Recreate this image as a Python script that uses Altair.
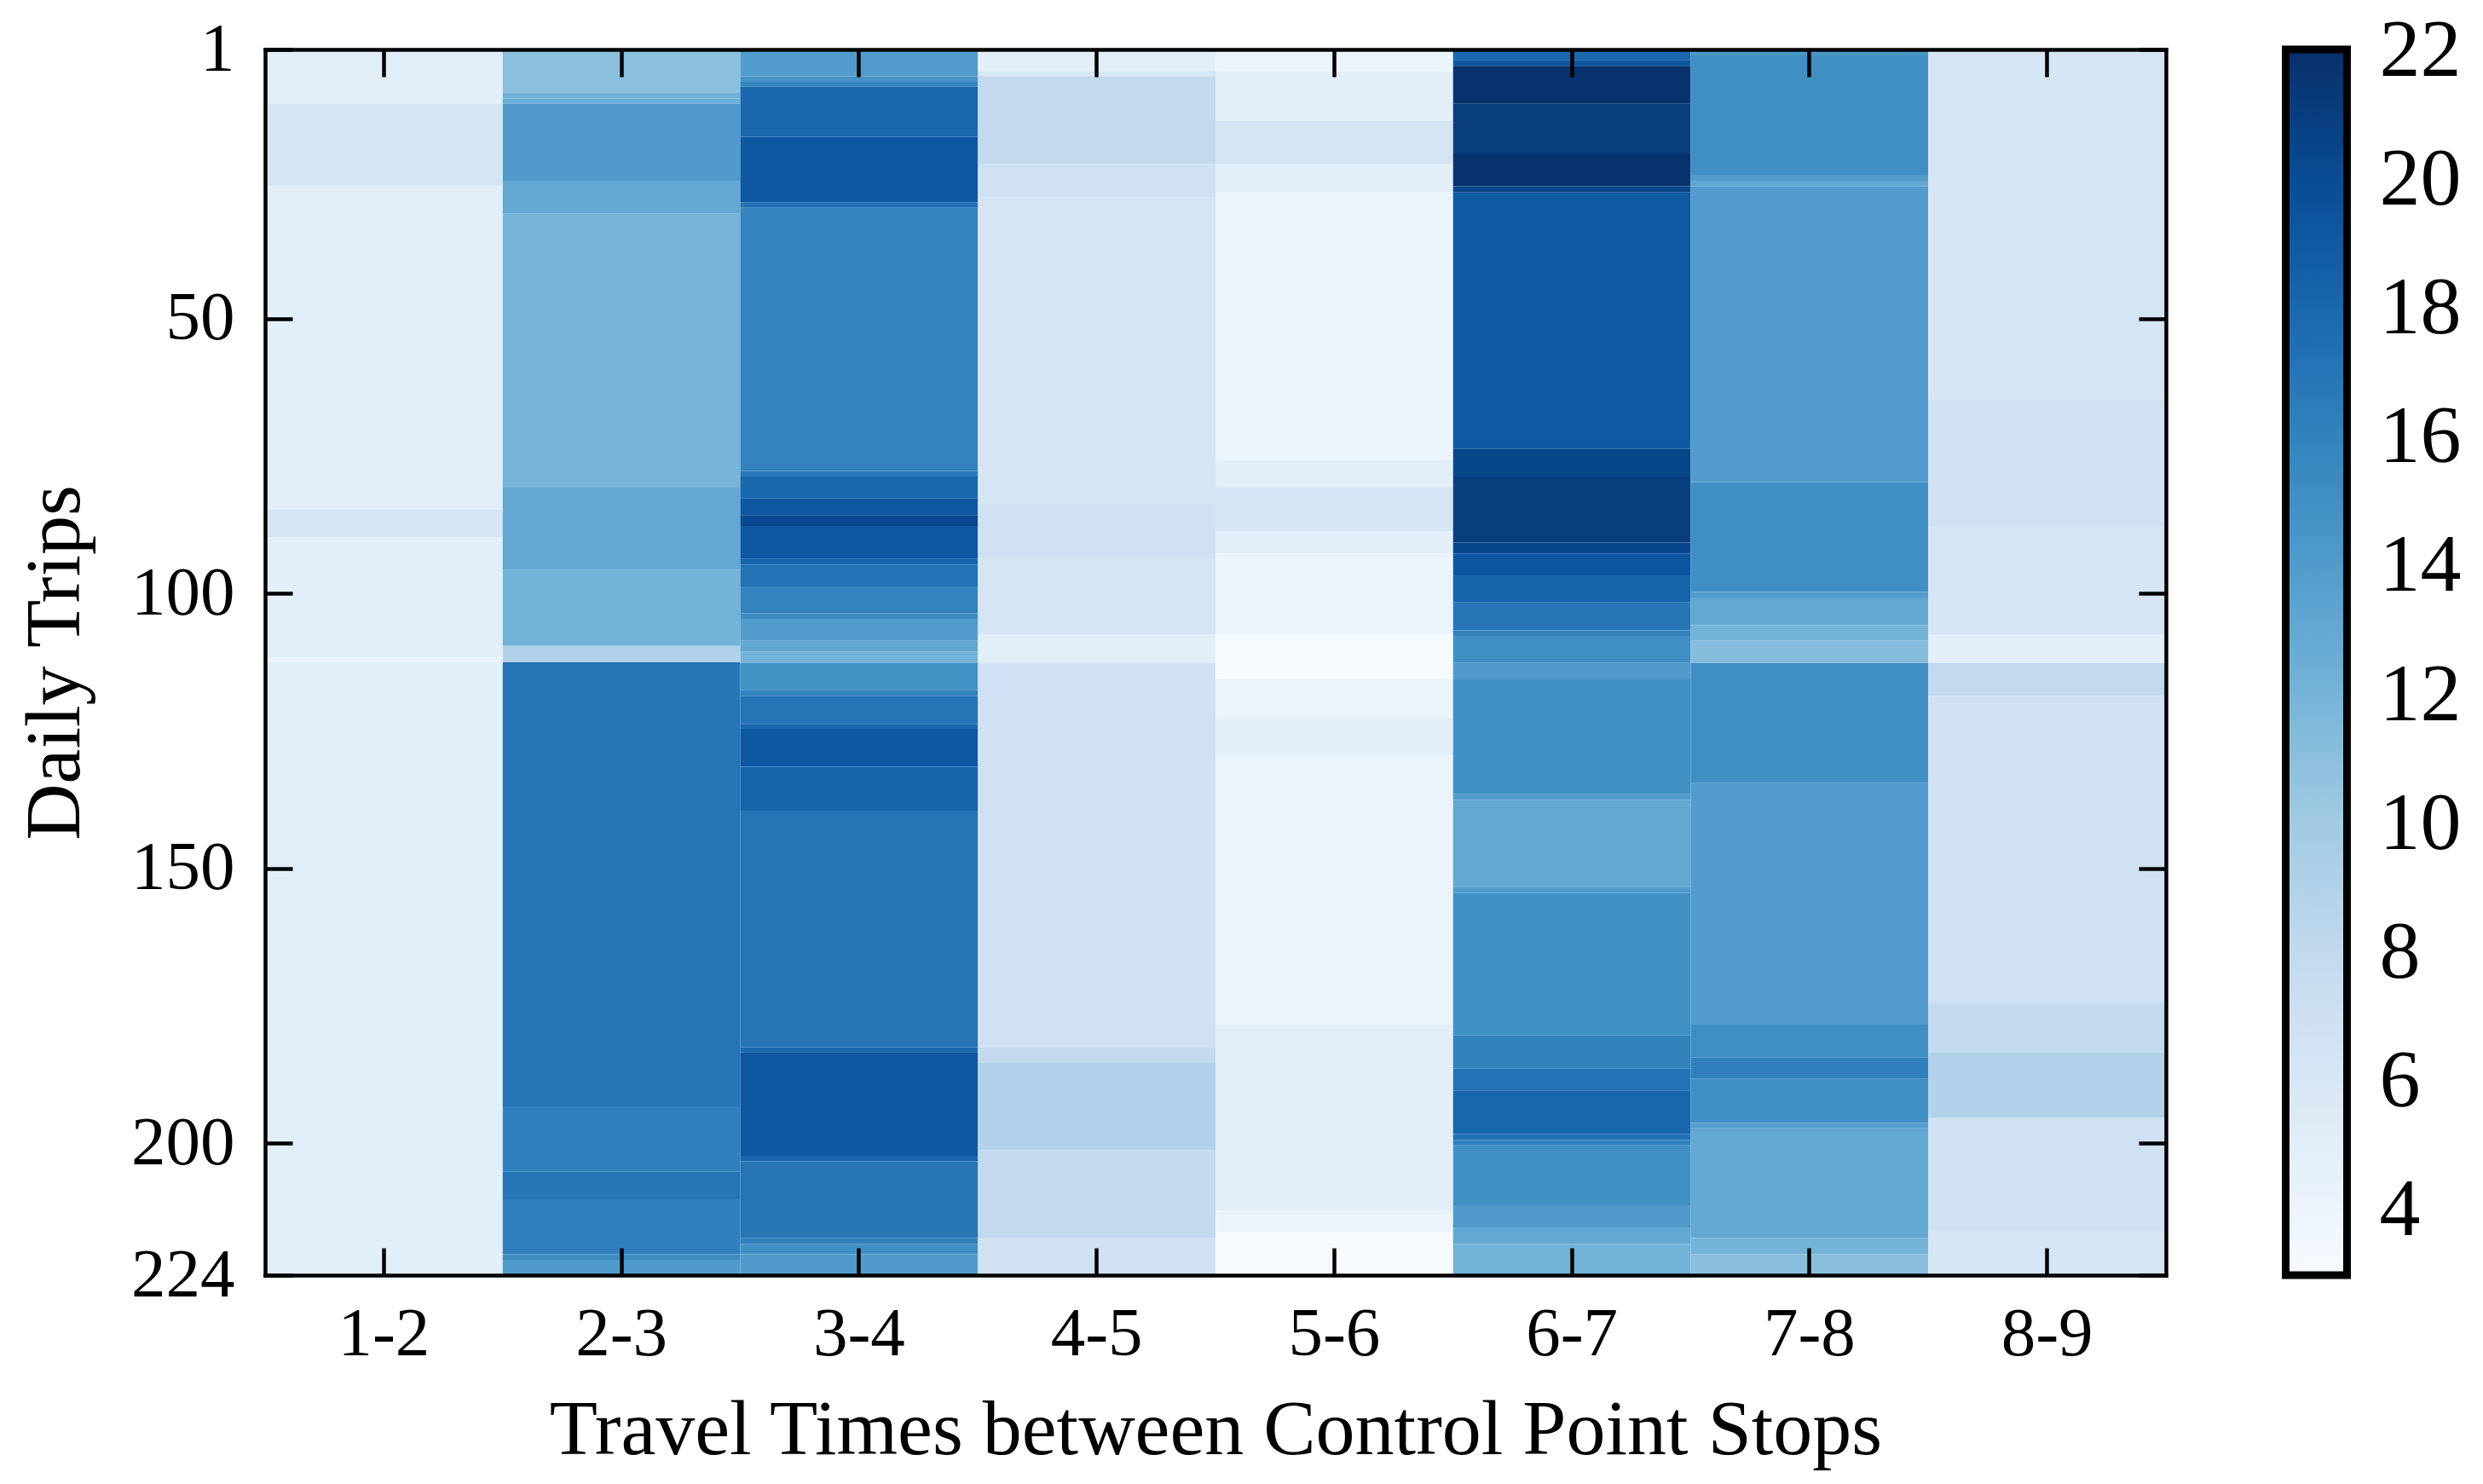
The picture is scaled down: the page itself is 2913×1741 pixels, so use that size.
import altair as alt
import pandas as pd

# ---------------- data ----------------
columns = ["1-2", "2-3", "3-4", "4-5", "5-6", "6-7", "7-8", "8-9"]

c12_edges = [1, 10.9, 25.9, 84.7, 89.7, 111.6, 112.5, 224]
c12_vals = [5.0, 6.3, 5.0, 6.3, 5.0, 4.2, 5.0]

c23_edges = [1, 8.9, 9.9, 10.9, 24.9, 30.9, 80.7, 95.7, 109.5, 112.5, 193.3, 205.2, 210.2, 220.2, 221.2, 224]
c23_vals = [11.0, 12.2, 12.5, 14.1, 13.0, 12.0, 13.0, 12.1, 9.0, 17.0, 16.2, 17.0, 16.2, 15.3, 14.1]

c34_edges = [1, 5.9, 6.9, 7.8, 16.9, 28.8, 29.8, 77.7, 78.7, 82.7, 85.7, 87.7, 93.7, 94.7, 98.7,
             103.6, 104.6, 108.6, 110.6, 112.6, 117.5, 118.6, 123.7, 124.6, 131.5, 139.5, 182.5,
             183.4, 202.3, 203.3, 217.2, 218.3, 220.2, 224]
c34_vals = [14.0, 14.7, 15.9, 18.0, 19.1, 17.3, 16.0, 16.8, 18.0, 19.1, 20.3, 19.1, 18.2, 17.2,
            16.0, 15.3, 14.0, 13.1, 12.1, 14.9, 15.9, 17.0, 17.9, 19.1, 18.2, 17.0, 18.0, 19.1,
            18.0, 17.0, 16.2, 15.0, 14.1]

c45_edges = [1, 5.0, 5.9, 21.9, 27.9, 83.6, 93.7, 107.5, 112.6, 182.5, 185.4, 201.3, 217.2, 224]
c45_vals = [5.0, 6.1, 8.0, 6.9, 6.2, 6.9, 6.2, 5.0, 6.9, 8.0, 9.0, 8.0, 6.8]

c56_edges = [1, 5.0, 14.0, 21.9, 27.0, 75.8, 80.7, 88.6, 92.7, 107.5, 115.6, 122.6, 129.4, 178.4, 212.3, 216.2, 224]
c56_vals = [4.1, 5.0, 6.3, 5.0, 4.1, 5.0, 6.3, 5.0, 4.1, 3.2, 4.1, 5.0, 4.1, 5.0, 4.1, 3.2]

c67_edges = [1, 2.9, 4.0, 10.9, 19.9, 25.9, 27.0, 73.7, 78.7, 90.7, 92.7, 96.7, 101.6, 106.7, 107.7,
             112.6, 115.6, 136.5, 137.5, 153.4, 154.5, 180.3, 186.4, 190.4, 198.3, 199.4, 200.4,
             211.3, 215.3, 218.3, 224]
c67_vals = [18.0, 19.3, 21.9, 21.1, 21.9, 20.5, 19.0, 20.4, 21.1, 20.4, 19.3, 18.2, 17.0, 16.0, 15.1,
            14.1, 15.0, 14.1, 13.0, 14.1, 15.0, 16.1, 17.2, 18.1, 17.3, 16.2, 15.0, 14.1, 13.0, 12.1]

c78_edges = [1, 2.1, 23.8, 24.9, 25.9, 79.7, 99.7, 100.7, 105.7, 108.5, 112.6, 134.5, 178.4, 184.4,
             188.3, 196.3, 197.3, 217.2, 220.2, 224]
c78_vals = [14.4, 15.1, 14.1, 13.1, 14.0, 15.1, 14.1, 13.0, 12.1, 11.2, 15.1, 14.0, 15.1, 16.2, 15.1,
            14.0, 13.0, 12.1, 11.1]

c89_edges = [1, 64.7, 87.7, 107.5, 112.6, 118.6, 174.4, 183.4, 195.3, 216.2, 224]
c89_vals = [6.2, 6.9, 6.2, 5.0, 8.0, 6.9, 8.0, 9.0, 6.9, 6.2]

y_tick_values = [1, 50, 100, 150, 200, 224]
cbar_tick_values = [4, 6, 8, 10, 12, 14, 16, 18, 20, 22]
value_min, value_max = 3, 22.02

# ---------------- build table ----------------
col_edges = [c12_edges, c23_edges, c34_edges, c45_edges, c56_edges, c67_edges, c78_edges, c89_edges]
col_vals = [c12_vals, c23_vals, c34_vals, c45_vals, c56_vals, c67_vals, c78_vals, c89_vals]
records = []
for name, edges, vals in zip(columns, col_edges, col_vals):
    for i, v in enumerate(vals):
        records.append({"seg": name, "y0": edges[i], "y1": edges[i + 1], "v": v})
df = pd.DataFrame(records)

# ---------------- styling ----------------
BLUES = ["#f7fbff", "#deebf7", "#c6dbef", "#9ecae1", "#6baed6",
         "#4292c6", "#2171b5", "#08519c", "#08306b"]
stops = [value_min + i * (value_max - value_min) / 8 for i in range(9)]
color_scale = alt.Scale(domain=stops, range=BLUES, interpolate="rgb")

FONT = "Liberation Serif"
W, H = 2230, 1438
T = 32          # tick length
LW = 4.5        # frame / tick width

xscale = alt.Scale(domain=columns, paddingInner=0, paddingOuter=0)
yscale = alt.Scale(domain=[1, 224], reverse=True, nice=False, zero=False)

base = alt.Chart(df)

heat = base.mark_rect(strokeWidth=0).encode(
    x=alt.X("seg:N", scale=xscale, sort=columns,
            axis=alt.Axis(orient="bottom", title="Travel Times between Control Point Stops",
                          labelAngle=0, ticks=False, tickSize=0, grid=False,
                          domain=True, domainWidth=LW, domainColor="black", domainCap="square",
                          labelFont=FONT, labelFontSize=81, labelColor="black",
                          labelPadding=93, labelBaseline="alphabetic", labelOverlap=False,
                          titleFont=FONT, titleFontSize=92, titleFontWeight="normal",
                          titleColor="black", titleX=W / 2, titleY=209,
                          titleBaseline="alphabetic", titleAlign="center", zindex=2)),
    y=alt.Y("y0:Q", scale=yscale,
            axis=alt.Axis(orient="left", title="Daily Trips", values=y_tick_values,
                          ticks=False, tickSize=0, grid=False,
                          domain=True, domainWidth=LW, domainColor="black", domainCap="square",
                          labelFont=FONT, labelFontSize=81, labelColor="black",
                          labelPadding=36, labelOverlap=False, labelFlush=False,
                          titleFont=FONT, titleFontSize=92, titleFontWeight="normal",
                          titleColor="black", titleAngle=-90, titleX=-219, titleY=H / 2,
                          titleBaseline="alphabetic", titleAlign="center", zindex=2)),
    y2="y1:Q",
    color=alt.Color("v:Q", scale=color_scale,
                    legend=alt.Legend(type="gradient", orient="none", legendX=2370.5, legendY=0,
                                      direction="vertical", title=None, format="d",
                                      gradientLength=H, gradientThickness=72,
                                      gradientStrokeColor="black", gradientStrokeWidth=9,
                                      values=cbar_tick_values, labelFont=FONT,
                                      labelFontSize=96, labelColor="black", labelOffset=38,
                                      labelBaseline="middle", labelLimit=400,
                                      labelOverlap=False, padding=0)),
)


def tick_axis(orient, values=None):
    kw = dict(orient=orient, title="", labels=False, domain=False, grid=False,
              ticks=True, tickSize=T, tickWidth=LW, tickColor="black", offset=-T, zindex=2)
    if values is not None:
        kw["values"] = values
    return alt.Axis(**kw)


def frame_axis(orient):
    return alt.Axis(orient=orient, title="", labels=False, ticks=False, tickSize=0, grid=False,
                    domain=True, domainWidth=LW, domainColor="black", domainCap="square", zindex=2)


ticks_bl = base.mark_rect(opacity=0).encode(
    x=alt.X("seg:N", scale=xscale, sort=columns, axis=tick_axis("bottom")),
    y=alt.Y("y0:Q", scale=yscale, axis=tick_axis("left", y_tick_values)),
    y2="y1:Q",
)
ticks_tr = base.mark_rect(opacity=0).encode(
    x=alt.X("seg:N", scale=xscale, sort=columns, axis=tick_axis("top")),
    y=alt.Y("y0:Q", scale=yscale, axis=tick_axis("right", y_tick_values)),
    y2="y1:Q",
)
frame_tr = base.mark_rect(opacity=0).encode(
    x=alt.X("seg:N", scale=xscale, sort=columns, axis=frame_axis("top")),
    y=alt.Y("y0:Q", scale=yscale, axis=frame_axis("right")),
    y2="y1:Q",
)

chart = (
    alt.layer(heat, ticks_bl, ticks_tr, frame_tr)
    .resolve_axis(x="independent", y="independent")
    .properties(width=W, height=H,
                padding={"left": 303, "top": 50, "right": 364, "bottom": 237},
                autosize=alt.AutoSizeParams(type="none"),
                background="white")
    .configure(font=FONT)
    .configure_view(strokeWidth=0)
)

chart.save("out.html", embed_options={"renderer": "svg", "actions": False})
